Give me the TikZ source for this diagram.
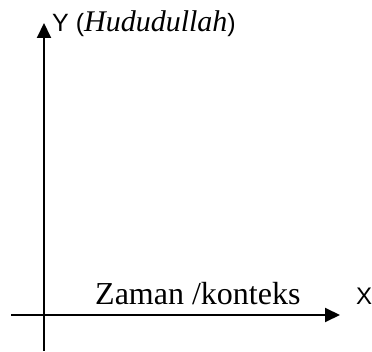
\documentclass[tikz,border=0pt]{standalone}
\usepackage{fontspec}
\setmainfont{Liberation Serif}
\newfontfamily\sansf{Liberation Sans}
\usetikzlibrary{arrows.meta}
\tikzset{
  axisline/.style={line width=2pt,-{Triangle[length=15pt,width=14pt]}},
  lbl/.style={inner sep=0pt,anchor=base west}
}
\begin{document}
\begin{tikzpicture}[x=1pt,y=-1pt]
\useasboundingbox (0,0) rectangle (372,352);
\coordinate (ybot) at (44,351);
\coordinate (ytop) at (44,23);
\coordinate (xleft) at (11,315);
\coordinate (xright) at (340,315);
\draw[axisline] (ybot) -- (ytop);
\draw[axisline] (xleft) -- (xright);
\node[lbl] (ylab) at (52,32) {\fontsize{25}{28}\selectfont\sansf Y (\rmfamily\itshape\fontsize{30}{32}\selectfont Hududullah\sansf\upshape\fontsize{25}{28}\selectfont)};
\node[lbl] (zaman) at (95,305) {\fontsize{32}{36}\selectfont Zaman /konteks};
\node[lbl] (xlab) at (356,305) {\fontsize{24}{28}\selectfont\sansf X};
\end{tikzpicture}
\end{document}
